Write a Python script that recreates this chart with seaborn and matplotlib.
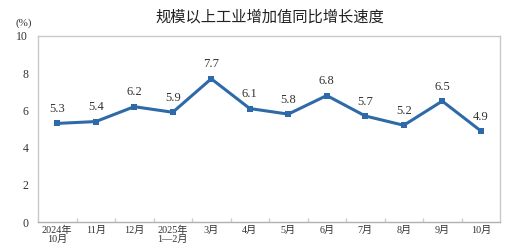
import matplotlib
matplotlib.use("Agg")
import matplotlib.pyplot as plt
import seaborn as sns
import pandas as pd
import numpy as np

categories = ["2024年\n10月", "11月", "12月", "2025年\n1—2月", "3月", "4月",
              "5月", "6月", "7月", "8月", "9月", "10月"]
values = [5.3, 5.4, 6.2, 5.9, 7.7, 6.1, 5.8, 6.8, 5.7, 5.2, 6.5, 4.9]
y_ticks = [0, 2, 4, 6, 8, 10]
title = "规模以上工业增加值同比增长速度"

sns.set_theme(style="white")
plt.rcParams['font.family'] = ['Liberation Serif', 'Noto Sans CJK SC', 'DejaVu Sans']

df = pd.DataFrame({"x": np.arange(len(categories)), "v": values})

fig = plt.figure(figsize=(5.19, 2.49), dpi=100)
ax = fig.add_axes([38/519, 1-222/249, (500-38)/519, (222-36)/249])
sns.lineplot(data=df, x="x", y="v", ax=ax, color="#2f6aa8", linewidth=2.2,
             marker="s", markersize=4.5, markeredgewidth=0)

for i, v in enumerate(values):
    ax.annotate(f"{v}", (i, v), xytext=(0, 6), textcoords="offset points",
                ha="center", va="bottom", fontsize=9, color="#333333",
                family=['Liberation Serif'])

ax.set_xlim(-0.5, len(categories) - 0.5)
ax.set_ylim(0, 10)
ax.set_yticks(y_ticks)
ax.set_yticklabels([str(t) for t in y_ticks], fontsize=8.5, color="#333333")
ax.set_xticks(range(len(categories)))
ax.set_xticklabels(categories, fontsize=7.3, color="#333333", linespacing=0.95,
                   family=['Liberation Serif', 'Noto Sans CJK SC'])
ax.set_xticks(np.arange(0.5, len(categories) - 0.5, 1), minor=True)
ax.tick_params(axis="x", which="major", length=0, pad=3)
ax.tick_params(axis="x", which="minor", length=3, direction="in", color="#cccccc", bottom=True)
ax.tick_params(axis="y", length=0, pad=7)
ax.set_xlabel("")
ax.set_ylabel("")
for s in ax.spines.values():
    s.set_color("#c8c8c8")
    s.set_linewidth(1.0)
ax.spines["bottom"].set_color("#b0b0b0")

fig.text(270/519, 1-17/249, title, ha="center", va="center", fontsize=11,
         color="#222222", family=['Noto Sans CJK SC'])
fig.text(24/519, 1-23/249, "(%)", ha="center", va="center", fontsize=8,
         color="#333333")

fig.savefig("out.png", dpi=100, facecolor="white")
